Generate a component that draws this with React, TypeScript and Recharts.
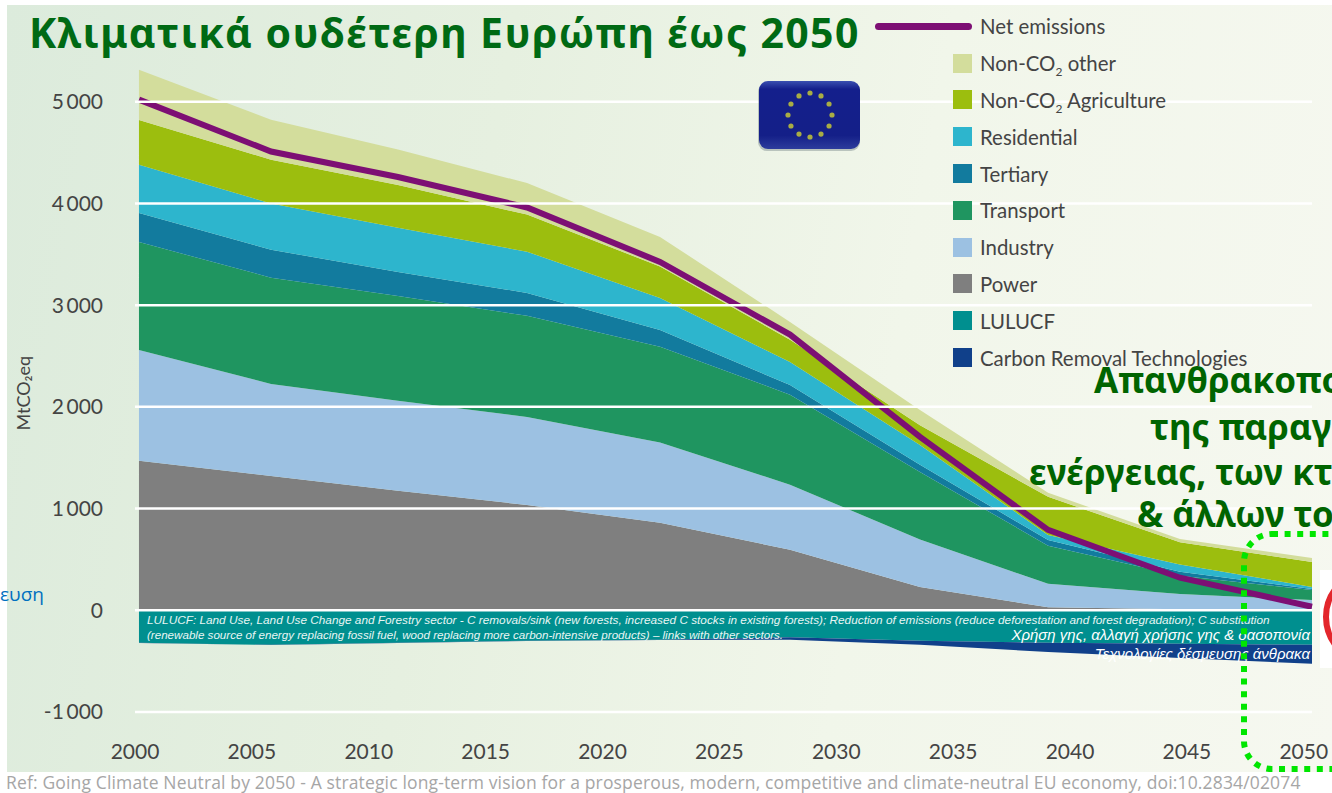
import React from "react";
import {
  ComposedChart,
  Area,
  Line,
  XAxis,
  YAxis,
  ReferenceLine,
  Legend,
} from "recharts";

// the data breakpoints in the picture do not sit on the printed 5-year ticks
const years = [2000.17, 2005.82, 2011.25, 2016.77, 2022.46, 2028.02, 2033.58, 2039.06, 2044.7, 2050.35];
const netEmissions = [5020, 4510, 4260, 3960, 3425, 2710, 1705, 790, 320, 35];
const power = [1470, 1320, 1175, 1035, 860, 595, 230, 30, 10, 5];
const industry = [1090, 905, 885, 865, 790, 640, 465, 230, 150, 95];
const transport = [1060, 1045, 1030, 995, 940, 885, 665, 375, 180, 100];
const tertiary = [285, 275, 235, 225, 165, 95, 70, 55, 40, 10];
const residential = [475, 455, 435, 405, 315, 225, 195, 50, 70, 20];
const agriculture = [440, 430, 420, 365, 310, 220, 195, 375, 220, 245];
const other = [495, 393, 350, 310, 290, 175, 150, 40, 30, 40];
const lulucf = [-320, -340, -320, -300, -290, -265, -300, -320, -330, -340];
// never exactly 0: a zero would be stacked on the positive side
const removal = [-1, -1, -1, -1, -2, -25, -40, -90, -140, -185];

const xTicks = [2000, 2005, 2010, 2015, 2020, 2025, 2030, 2035, 2040, 2045, 2050];
const yTicks = [-1000, 0, 1000, 2000, 3000, 4000, 5000];

const series = [
  { key: "other", name: "Non-CO2 other", color: "#d3dd9c", values: other },
  { key: "agriculture", name: "Non-CO2 Agriculture", color: "#9cbe0e", values: agriculture },
  { key: "residential", name: "Residential", color: "#2db5cd", values: residential },
  { key: "tertiary", name: "Tertiary", color: "#127b9e", values: tertiary },
  { key: "transport", name: "Transport", color: "#1f9560", values: transport },
  { key: "industry", name: "Industry", color: "#9cc1e2", values: industry },
  { key: "power", name: "Power", color: "#7f7f7f", values: power },
  { key: "lulucf", name: "LULUCF", color: "#008f8f", values: lulucf },
  { key: "removal", name: "Carbon Removal Technologies", color: "#10408a", values: removal },
];

// stacking starts from the bottom of the legend
const stackOrder = ["power", "industry", "transport", "tertiary", "residential", "agriculture", "other", "lulucf", "removal"];

const chartData = years.map((year, i) => {
  const row: Record<string, number> = { year, net: netEmissions[i] };
  series.forEach((s) => {
    row[s.key] = s.values[i];
  });
  return row;
});

const formatThousands = (v: number) => {
  if (v === 0) return "0";
  const abs = Math.abs(v);
  return (v < 0 ? "-" : "") + Math.floor(abs / 1000) + "\u2009" + "000";
};

const labelWithSub = (name: string) => {
  if (!name.includes("CO2")) return name;
  const [a, b] = name.split("CO2");
  return (
    <>
      {a}CO<sub style={{ fontSize: 12, lineHeight: 0 }}>2</sub>
      {b}
    </>
  );
};

const LegendBox = () => (
  <div style={{ fontFamily: "Lato", fontSize: 20.4, color: "#444" }}>
    <div style={{ height: 36.8, display: "flex", alignItems: "center" }}>
      <div style={{ width: 97, height: 7, borderRadius: 4, background: "#7d0f74", marginRight: 8 }} />
      Net emissions
    </div>
    {series.map((s) => (
      <div key={s.key} style={{ height: 36.8, display: "flex", alignItems: "center", paddingLeft: 78 }}>
        <div style={{ width: 19, height: 19, background: s.color, marginRight: 8 }} />
        <span>{labelWithSub(s.name)}</span>
      </div>
    ))}
  </div>
);

const EuFlag = () => {
  const stars = Array.from({ length: 12 }, (_, i) => i * 30);
  return (
    <svg width={112} height={78} style={{ position: "absolute", left: 754, top: 78 }}>
      <defs>
        <linearGradient id="flagBlue" x1="0" y1="0" x2="0" y2="1">
          <stop offset="0" stopColor="#3a4fb0" />
          <stop offset="0.12" stopColor="#141f8c" />
          <stop offset="0.8" stopColor="#141f88" />
          <stop offset="1" stopColor="#2d3c9c" />
        </linearGradient>
      </defs>
      <rect x={4} y={5} width={102} height={68} rx={9} fill="#5a6a70" opacity={0.35} />
      <rect x={5} y={3} width={101} height={68} rx={9} fill="url(#flagBlue)" />
      {stars.map((a) => (
        <circle
          key={a}
          cx={56 + 22 * Math.sin((a * Math.PI) / 180)}
          cy={37 - 22 * Math.cos((a * Math.PI) / 180)}
          r={2.6}
          fill="#a9ad44"
        />
      ))}
    </svg>
  );
};

const overlayText: React.CSSProperties = {
  position: "absolute",
  whiteSpace: "nowrap",
  fontFamily: "Liberation Sans",
  fontStyle: "italic",
};

const calloutLines = [
  { text: "Απανθρακοπο", left: 1094, top: 358 },
  { text: "της παραγ", left: 1150, top: 405 },
  { text: "ενέργειας, των κτ", left: 1029, top: 450 },
  { text: "& άλλων το", left: 1137, top: 492 },
];

export default function App() {
  return (
    <div style={{ position: "absolute", left: 0, top: 0, width: 1332, height: 793, overflow: "hidden", background: "#fff" }}>
      <div
        style={{
          position: "absolute",
          left: 7,
          top: 5,
          width: 1325,
          height: 767,
          background: "linear-gradient(100deg, #dcebdc 0%, #e6f0e0 35%, #f1f6ea 65%, #f6f8f0 100%)",
        }}
      />
      <div style={{ position: "absolute", left: 0, top: 0 }}>
        <ComposedChart
          width={1332}
          height={793}
          data={chartData}
          stackOffset="sign"
          margin={{ top: 61, right: 20, bottom: 0, left: 0 }}
        >
          <XAxis
            dataKey="year"
            type="number"
            domain={[2000, 2050.35]}
            ticks={xTicks}
            interval={0}
            height={81}
            axisLine={false}
            tickLine={false}
            tickMargin={26}
            tick={{ fontFamily: "Lato", fontSize: 21, fill: "#444" }}
          />
          <YAxis
            type="number"
            domain={[-1000, 5400]}
            ticks={yTicks}
            interval={0}
            width={135}
            axisLine={false}
            tickLine={false}
            tickMargin={26}
            tickFormatter={formatThousands}
            tick={{ fontFamily: "Lato", fontSize: 21, fill: "#444" }}
            label={{
              value: "MtCO₂eq",
              angle: -90,
              position: "insideLeft",
              offset: 24,
              dy: 44,
              style: { fontFamily: "Lato", fontSize: 18, fill: "#444" },
            }}
          />
          {stackOrder.map((key) => {
            const s = series.find((item) => item.key === key)!;
            return (
              <Area
                key={key}
                dataKey={key}
                name={s.name}
                stackId="all"
                type="linear"
                fill={s.color}
                fillOpacity={1}
                stroke="none"
                isAnimationActive={false}
              />
            );
          })}
          <Line
            dataKey="net"
            name="Net emissions"
            type="linear"
            stroke="#7d0f74"
            strokeWidth={6}
            dot={false}
            isAnimationActive={false}
          />
          {/* white lines run over the areas in the original, so no CartesianGrid */}
          {yTicks.map((t) => (
            <ReferenceLine key={t} y={t} stroke="#ffffff" strokeWidth={2.5} />
          ))}
          <Legend
            content={<LegendBox />}
            layout="vertical"
            align="center"
            verticalAlign="middle"
            wrapperStyle={{ left: 875, top: 8, width: 420, bottom: "auto", right: "auto" }}
          />
        </ComposedChart>
      </div>

      <div
        style={{
          position: "absolute",
          left: 29,
          top: 4,
          whiteSpace: "nowrap",
          fontFamily: "Noto Sans",
          fontWeight: 700,
          fontSize: 41,
          letterSpacing: 1.4,
          color: "#006a14",
        }}
      >
        Κλιματικά ουδέτερη Ευρώπη έως 2050
      </div>

      <EuFlag />

      <div style={{ ...overlayText, left: 147, top: 613, fontSize: 11.8, color: "#e8f6f4" }}>
        LULUCF:  Land Use, Land Use Change and Forestry sector - C removals/sink (new forests, increased C stocks in existing forests); Reduction of emissions (reduce deforestation and forest degradation); C substitution
      </div>
      <div style={{ ...overlayText, left: 147, top: 628, fontSize: 11.6, color: "#e8f6f4" }}>
        (renewable source of energy replacing fossil fuel, wood replacing more carbon-intensive products) – links with other sectors.
      </div>
      <div style={{ ...overlayText, right: 22, top: 626, fontSize: 15, color: "#fff" }}>
        Χρήση γης, αλλαγή χρήσης γης & δασοπονία
      </div>
      <div style={{ ...overlayText, right: 22, top: 645, fontSize: 15, color: "#fff" }}>
        Τεχνολογίες δέσμευσης άνθρακα
      </div>

      <div style={{ position: "absolute", left: 0, top: 581, fontFamily: "Open Sans", fontSize: 19, color: "#0070c0" }}>
        ευση
      </div>

      {calloutLines.map((l) => (
        <div
          key={l.text}
          style={{
            position: "absolute",
            left: l.left,
            top: l.top,
            whiteSpace: "nowrap",
            fontFamily: "Noto Sans",
            fontWeight: 700,
            fontSize: 35,
            lineHeight: "44px",
            color: "#006400",
          }}
        >
          {l.text}
        </div>
      ))}

      <svg width={1332} height={793} style={{ position: "absolute", left: 0, top: 0 }}>
        <rect x={1320} y={570} width={12} height={98} fill="#fff" />
        <circle cx={1372} cy={617} r={46} fill="none" stroke="#e3262c" strokeWidth={6} />
        <rect
          x={1244}
          y={534}
          width={200}
          height={235}
          rx={28}
          fill="none"
          stroke="#00e600"
          strokeWidth={6}
          strokeDasharray="6 6.6"
        />
      </svg>

      <div
        style={{
          position: "absolute",
          left: 6,
          top: 772,
          whiteSpace: "nowrap",
          fontFamily: "Open Sans",
          fontSize: 17.5,
          lineHeight: "20px",
          letterSpacing: 0.15,
          color: "#a6a6a6",
        }}
      >
        Ref: Going Climate Neutral by 2050 - A strategic long-term vision for a prosperous, modern, competitive and climate-neutral EU economy, doi:10.2834/02074
      </div>
    </div>
  );
}
